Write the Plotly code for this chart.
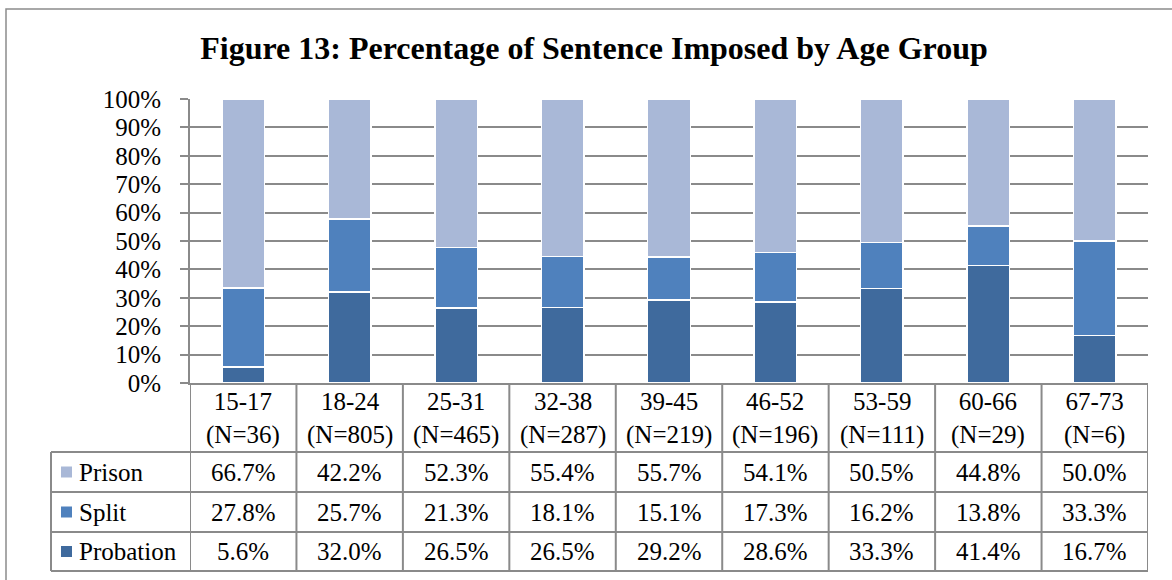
import plotly.graph_objects as go

age_groups = ["15-17", "18-24", "25-31", "32-38", "39-45", "46-52", "53-59", "60-66", "67-73"]
group_n = [36, 805, 465, 287, 219, 196, 111, 29, 6]
prison = [66.7, 42.2, 52.3, 55.4, 55.7, 54.1, 50.5, 44.8, 50.0]
split = [27.8, 25.7, 21.3, 18.1, 15.1, 17.3, 16.2, 13.8, 33.3]
probation = [5.6, 32.0, 26.5, 26.5, 29.2, 28.6, 33.3, 41.4, 16.7]
y_ticks = list(range(0, 101, 10))

series = [  # drawn bottom to top
    ("Probation", probation, "#3F6A9D"),
    ("Split", split, "#4F81BD"),
    ("Prison", prison, "#A9B8D7"),
]

# page geometry (pixels)
WIDTH, HEIGHT = 1172, 580
L, R, T, B = 190, 24, 99, 197
PW, PH = WIDTH - L - R, HEIGHT - T - B
GRID = "#8a8a8a"
FONT = "Liberation Serif, Times New Roman, serif"
FS = 25


def px(x):
    return (x - L) / PW


def py(y):
    return (HEIGHT - B - y) / PH


xs = list(range(len(age_groups)))
fig = go.Figure()
for name, vals, color in series:
    fig.add_trace(go.Bar(
        x=xs, y=vals, name=name, width=0.4,
        marker=dict(color=color, line=dict(color="white", width=1.5)),
        showlegend=False, hoverinfo="skip"))

# table rows: header bottom and row bottoms
row_bounds = [452, 492, 532, 571]
table_left = 51

shapes = []
# outer frame of the chart
shapes.append(dict(type="rect", xref="paper", yref="paper",
                   x0=px(6), x1=px(1200), y0=py(9), y1=py(620),
                   line=dict(color="#8c8c8c", width=1.5)))
# horizontal table lines
for yb in row_bounds:
    shapes.append(dict(type="line", xref="paper", yref="paper",
                       x0=px(table_left), x1=1, y0=py(yb), y1=py(yb),
                       line=dict(color=GRID, width=2)))
# vertical lines between categories
for i in range(len(age_groups) + 1):
    shapes.append(dict(type="line", xref="x", yref="paper",
                       x0=i - 0.5, x1=i - 0.5, y0=py(383), y1=py(row_bounds[-1]),
                       line=dict(color=GRID, width=2)))
shapes.append(dict(type="line", xref="paper", yref="paper",
                   x0=px(table_left), x1=px(table_left),
                   y0=py(row_bounds[0]), y1=py(row_bounds[-1]),
                   line=dict(color=GRID, width=2)))

annotations = []
for i, (age, n) in enumerate(zip(age_groups, group_n)):
    annotations.append(dict(xref="x", yref="paper", x=i, y=py(418),
                            xanchor="center", yanchor="middle",
                            text=f"{age}<br>(N={n})", showarrow=False,
                            font=dict(size=FS, color="black", family=FONT)))

table_rows = [("Prison", prison, "#A9B8D7"), ("Split", split, "#4F81BD"),
              ("Probation", probation, "#3F6A9D")]
for r, (name, vals, color) in enumerate(table_rows):
    yc = (row_bounds[r] + row_bounds[r + 1]) / 2
    # legend key
    shapes.append(dict(type="rect", xref="paper", yref="paper",
                       x0=px(61), x1=px(72), y0=py(yc - 5.5), y1=py(yc + 5.5),
                       fillcolor=color, line=dict(width=0)))
    annotations.append(dict(xref="paper", yref="paper", x=px(77), y=py(yc),
                            xanchor="left", yanchor="middle", text=name, showarrow=False,
                            font=dict(size=FS, color="black", family=FONT)))
    for i, v in enumerate(vals):
        annotations.append(dict(xref="x", yref="paper", x=i, y=py(yc),
                                xanchor="center", yanchor="middle",
                                text=f"{v:.1f}%", showarrow=False,
                                font=dict(size=FS, color="black", family=FONT)))

fig.update_layout(
    width=WIDTH, height=HEIGHT,
    margin=dict(l=L, r=R, t=T, b=B),
    paper_bgcolor="white", plot_bgcolor="white",
    barmode="stack", barnorm="percent", bargap=0.6,
    title=dict(text="<b>Figure 13: Percentage of Sentence Imposed by Age Group</b>",
               x=594 / WIDTH, xanchor="center", y=1 - 48 / HEIGHT, yanchor="middle",
               font=dict(size=32, color="black", family=FONT)),
    font=dict(family=FONT, color="black"),
    shapes=shapes, annotations=annotations,
)
fig.update_xaxes(range=[-0.5, len(age_groups) - 0.5], showticklabels=False,
                 showgrid=False, zeroline=False, showline=True,
                 linecolor=GRID, linewidth=2, ticks="", fixedrange=True)
fig.update_yaxes(range=[0, 100], tickvals=y_ticks,
                 ticktext=[f"{t}%" for t in y_ticks],
                 showgrid=True, gridcolor=GRID, gridwidth=2,
                 showline=True, linecolor=GRID, linewidth=2,
                 ticks="outside", ticklen=8, tickcolor=GRID, tickwidth=2,
                 ticklabelstandoff=14, zeroline=False,
                 tickfont=dict(size=FS, color="black", family=FONT))

# drop the browser's default body margin so the figure sits at the page corner
fig.write_html("out.html", config={"displayModeBar": False},
               post_script="document.body.style.margin='0';")
